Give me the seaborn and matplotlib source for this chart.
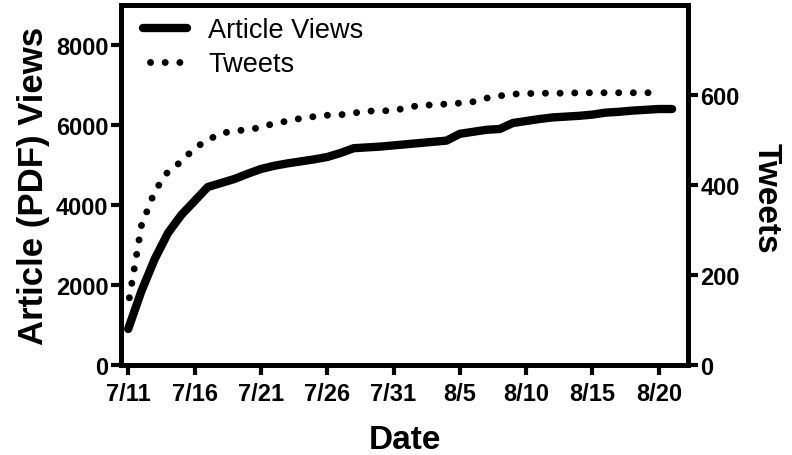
import numpy as np
import pandas as pd
import matplotlib
matplotlib.use("Agg")
import matplotlib.pyplot as plt
import seaborn as sns

# data (7/11 .. 8/21)
dates = pd.date_range("2013-07-11", periods=42, freq="D")
views = [900, 1850, 2650, 3300, 3750, 4100, 4450, 4550, 4650, 4780,
         4900, 4980, 5040, 5090, 5140, 5200, 5300, 5420, 5440, 5460,
         5490, 5520, 5550, 5580, 5610, 5780, 5830, 5880, 5900, 6050,
         6100, 6150, 6190, 6210, 6230, 6260, 6310, 6330, 6360, 6380,
         6400, 6400]
tweets = [134, 310, 386, 430, 452, 482, 500, 515, 520, 523,
          528, 537, 542, 548, 552, 555, 556, 560, 564, 565,
          565, 572, 577, 578, 580, 582, 585, 593, 598, 602,
          603, 604, 604, 604, 605, 605, 605, 605, 605, 605,
          605]
tick_labels = ["7/11", "7/16", "7/21", "7/26", "7/31", "8/5", "8/10", "8/15", "8/20"]

df_views = pd.DataFrame({"date": dates, "views": views})
df_tweets = pd.DataFrame({"date": dates[:len(tweets)], "tweets": tweets})

sns.set_theme(style="ticks", rc={"text.color": "black", "axes.labelcolor": "black"})
plt.rcParams["font.family"] = ["Liberation Sans", "DejaVu Sans"]

fig = plt.figure(figsize=(7.92, 4.56), dpi=100)
ax = fig.add_axes([0.1528, 0.1974, 0.8687 - 0.1528, 0.9868 - 0.1974])
ax2 = ax.twinx()

sns.lineplot(data=df_views, x="date", y="views", ax=ax, color="black",
             linewidth=6, solid_capstyle="round", label="Article Views", legend=False)
sns.lineplot(data=df_tweets, x="date", y="tweets", ax=ax2, color="black",
             linewidth=5, linestyle=(1.1, (0.01, 2.1)), dash_capstyle="round",
             label="Tweets", legend=False)

ax.set_ylim(0, 9000)
ax2.set_ylim(0, 800)
ax.set_xlim(dates[0] - pd.Timedelta(hours=13), dates[0] + pd.Timedelta(days=42.2))
ax.set_yticks([0, 2000, 4000, 6000, 8000])
ax2.set_yticks([0, 200, 400, 600])
ax.set_xticks(dates[::5])
ax.set_xticklabels(tick_labels)

for a in (ax, ax2):
    for s in a.spines.values():
        s.set_linewidth(3.5)
        s.set_color("black")
    a.tick_params(width=3, length=7, labelsize=17, color="black", labelcolor="black")
    for lbl in a.get_xticklabels() + a.get_yticklabels():
        lbl.set_fontweight("bold")
ax.tick_params(axis="y", pad=2)
ax.tick_params(axis="x", pad=5)
ax2.tick_params(axis="y", pad=2)

ax.set_xlabel("Date", fontsize=24, fontweight="bold", labelpad=14, color="black")
ax.set_ylabel("Article (PDF) Views", fontsize=25, fontweight="bold", labelpad=4, color="black")
ax2.set_ylabel("Tweets", fontsize=24, fontweight="bold", rotation=270, color="black")
ax2.yaxis.set_label_coords(1.165, 0.465)

h1, l1 = ax.get_legend_handles_labels()
h2, l2 = ax2.get_legend_handles_labels()
leg = ax2.legend(h1 + h2, l1 + l2, loc="upper left", bbox_to_anchor=(0.018, 1.0),
                 frameon=False, fontsize=19.5,
                 handlelength=1.6, handletextpad=0.8, labelspacing=0.3,
                 borderaxespad=0.15, borderpad=0.3)
for t in leg.get_texts():
    t.set_color("black")

fig.savefig("out.png", dpi=100)
